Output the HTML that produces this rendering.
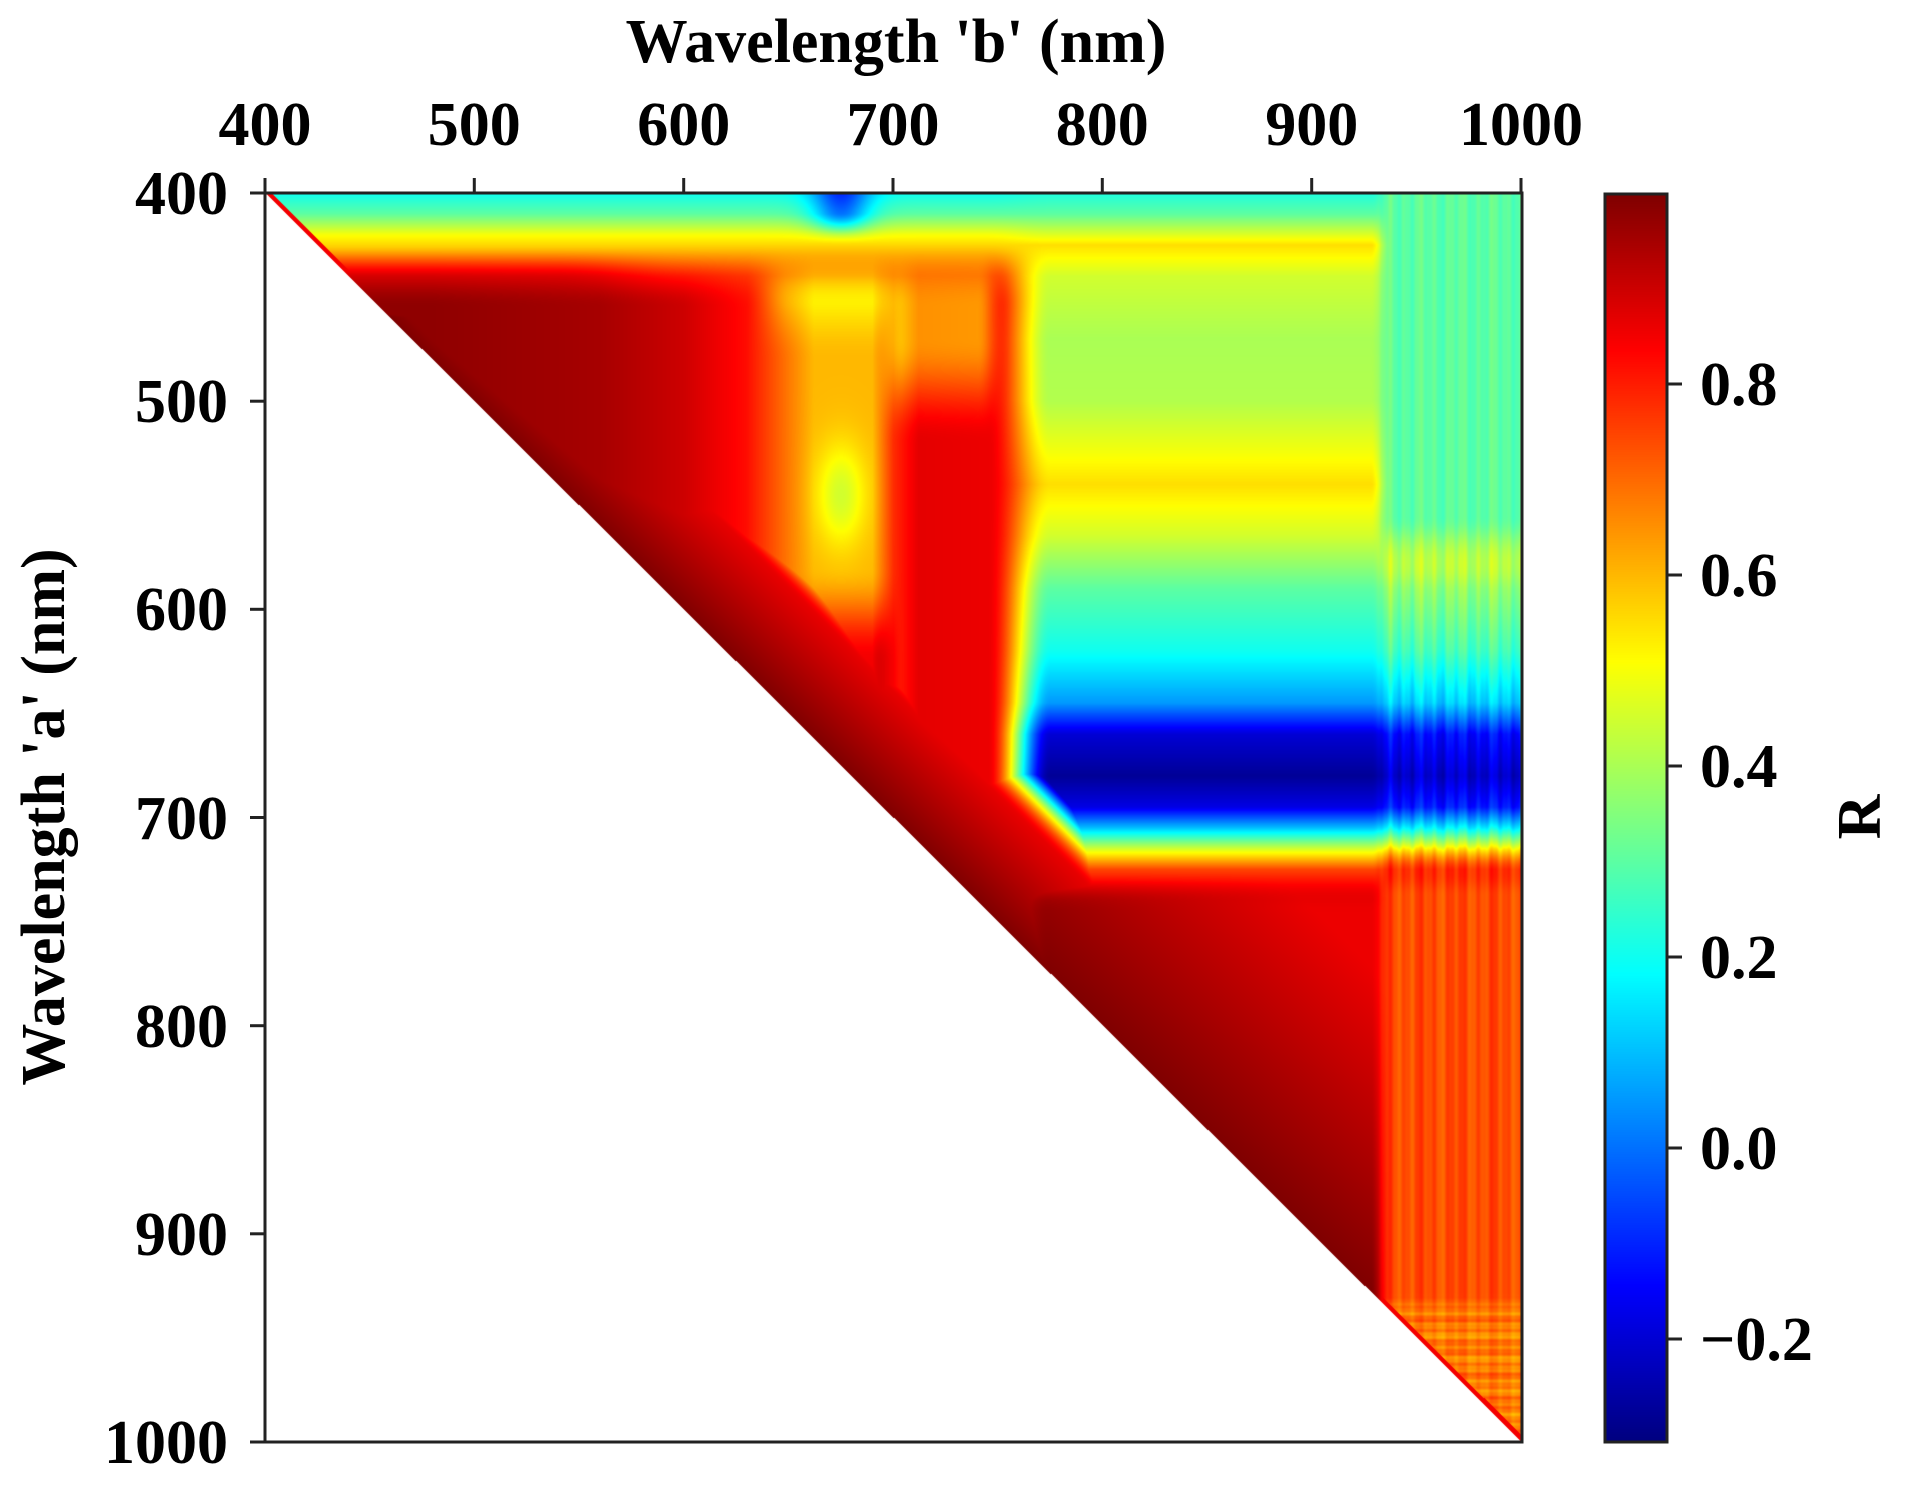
<!DOCTYPE html>
<html><head><meta charset="utf-8"><style>
html,body{margin:0;padding:0;background:#fff;}
#wrap{position:relative;width:1908px;height:1486px;overflow:hidden;}
canvas{position:absolute;}
svg{position:absolute;left:0;top:0;}
text{font-family:"Liberation Serif",serif;font-weight:bold;fill:#000;}
</style></head><body>
<div id="wrap">
<canvas id="hm" width="1257" height="1249" style="left:265px;top:193px;"></canvas>
<canvas id="cb" width="62" height="1248" style="left:1605px;top:194px;"></canvas>
<svg width="1908" height="1486">
<rect x="265" y="193" width="1257" height="1249" fill="none" stroke="#222" stroke-width="3"/>
<rect x="1605" y="194" width="62" height="1248" fill="none" stroke="#222" stroke-width="3"/>
<g stroke="#222" stroke-width="3">
<line x1="265" y1="193" x2="265" y2="178"/><line x1="474.3" y1="193" x2="474.3" y2="178"/><line x1="683.7" y1="193" x2="683.7" y2="178"/><line x1="893" y1="193" x2="893" y2="178"/><line x1="1102.3" y1="193" x2="1102.3" y2="178"/><line x1="1311.7" y1="193" x2="1311.7" y2="178"/><line x1="1521" y1="193" x2="1521" y2="178"/>
<line x1="265" y1="193" x2="250" y2="193"/><line x1="265" y1="401.2" x2="250" y2="401.2"/><line x1="265" y1="609.3" x2="250" y2="609.3"/><line x1="265" y1="817.5" x2="250" y2="817.5"/><line x1="265" y1="1025.7" x2="250" y2="1025.7"/><line x1="265" y1="1233.8" x2="250" y2="1233.8"/><line x1="265" y1="1442" x2="250" y2="1442"/>
<line x1="1667" y1="384" x2="1682" y2="384"/><line x1="1667" y1="575" x2="1682" y2="575"/><line x1="1667" y1="766" x2="1682" y2="766"/><line x1="1667" y1="957" x2="1682" y2="957"/><line x1="1667" y1="1148" x2="1682" y2="1148"/><line x1="1667" y1="1339" x2="1682" y2="1339"/>
</g>
<g font-size="62" text-anchor="middle">
<text x="265" y="145">400</text><text x="474.3" y="145">500</text><text x="683.7" y="145">600</text><text x="893" y="145">700</text><text x="1102.3" y="145">800</text><text x="1311.7" y="145">900</text><text x="1521" y="145">1000</text>
</g>
<g font-size="62" text-anchor="end">
<text x="228" y="214">400</text><text x="228" y="422">500</text><text x="228" y="630">600</text><text x="228" y="839">700</text><text x="228" y="1047">800</text><text x="228" y="1255">900</text><text x="228" y="1463">1000</text>
</g>
<g font-size="62">
<text x="1700" y="405">0.8</text><text x="1700" y="596">0.6</text><text x="1700" y="787">0.4</text><text x="1700" y="978">0.2</text><text x="1700" y="1169">0.0</text><text x="1700" y="1360">−0.2</text>
</g>
<text x="896" y="62" font-size="62" text-anchor="middle">Wavelength 'b' (nm)</text>
<text transform="translate(64,817) rotate(-90)" font-size="62" text-anchor="middle">Wavelength 'a' (nm)</text>
<text transform="translate(1880,817) rotate(-90)" font-size="62" text-anchor="middle">R</text>
</svg>
</div>
<script>
function cl(v){return v<0?0:v>1?1:v;}
function jet(t){t=cl(t);return [cl(1.5-Math.abs(4*t-3)),cl(1.5-Math.abs(4*t-2)),cl(1.5-Math.abs(4*t-1))];}
function interp(x,xs,ys){if(x<=xs[0])return ys[0];for(var i=1;i<xs.length;i++){if(x<=xs[i]){var f=(x-xs[i-1])/(xs[i]-xs[i-1]);return ys[i-1]+f*(ys[i]-ys[i-1]);}}return ys[ys.length-1];}
function ss(x,a,b){var t=cl((x-a)/(b-a));return t*t*(3-2*t);}
function bump(x,a,b,c,d){return ss(x,a,b)*(1-ss(x,c,d));}
function g(x){return Math.exp(-x*x);}
var VMIN=-0.31,VMAX=1.0;
function stripe(b){return 0.5*Math.sin(b*0.9)+0.3*Math.sin(b*0.37+1)+0.2*Math.sin(b*2.1);}
function R(a,b){
 var nir=interp(a,[400,410,425,440,470,500,540,565,590,620,645,660,680,695,705,715,725,740],
  [0.22,0.3,0.55,0.45,0.4,0.41,0.55,0.45,0.3,0.2,0.05,-0.2,-0.28,-0.18,0.1,0.45,0.75,0.9]);
 if(a>=725){var hv=Math.max(0.86,1.0-0.0009*(b-a));var w=ss(a,725,745);nir=nir*(1-w)+hv*w;}
 var s=ss(b,928,938);
 if(s>0){
  var stLow=0.3+0.04*stripe(b);
  var stMid=nir+0.07+0.06*stripe(b);
  var stHigh=0.74+0.05*stripe(b);
  var stBot=0.68+0.06*stripe(a*1.3)+0.04*stripe(b);
  var st=stLow*(1-ss(a,555,585))+stMid*ss(a,555,585);
  var wh=ss(a,712,738);
  st=st*(1-wh)+stHigh*wh;
  var wb=ss(a,928,940);
  st=st*(1-wb)+stBot*wb;
  nir=nir*(1-s)+st*s;
 }
 var top=interp(a,[400,410,420,430,440],[0.2,0.3,0.5,0.62,0.72]);
 top-=0.3*g((b-675)/14)*(1-ss(a,410,425));
 top+=0.08*(1-ss(b,540,600))*ss(a,425,440);
 var col=interp(b,[400,480,560,600,630,650,662,690,700,712,745],[0.98,0.98,0.95,0.9,0.82,0.68,0.6,0.6,0.78,0.87,0.86]);
 col-=0.22*(1-ss(a,470,520))*bump(b,690,705,740,755);
 col-=0.15*g((a-545)/25)*g((b-675)/12);
 col-=0.1*(1-ss(a,440,480))*bump(b,630,650,690,705);
 col+=0.25*ss(a,580,625)*bump(b,625,650,690,705);
 var vis=top*(1-ss(a,425,455))+col*ss(a,425,455);
 var t=ss(b,745,775);
 var v=vis*(1-t)+nir*t;
 var wd=ss(a,430,460)*(1-s);
 var d=b-a;
 var boost=1-d*0.0022-2*ss(d,60,120);
 boost=boost*wd-(1-wd);
 v=Math.max(v,boost);
 if(d<3)v=Math.max(v,0.85);
 return v;
}
(function(){
 var c=document.getElementById('hm'),ctx=c.getContext('2d');
 var W=c.width,H=c.height,img=ctx.createImageData(W,H),D=img.data;
 for(var y=0;y<H;y++){var a=400+(y+0.5)/H*600;
  for(var x=0;x<W;x++){var b=400+(x+0.5)/W*600;var k=(y*W+x)*4;
   if(b<a){D[k+3]=0;continue;}
   var v=R(a,b);var col=jet((v-VMIN)/(VMAX-VMIN));
   D[k]=col[0]*255;D[k+1]=col[1]*255;D[k+2]=col[2]*255;D[k+3]=255;}}
 ctx.putImageData(img,0,0);
 var cb=document.getElementById('cb'),c2=cb.getContext('2d');
 for(var y=0;y<cb.height;y++){var t=1-y/(cb.height-1);var col=jet(t);
  c2.fillStyle='rgb('+Math.round(col[0]*255)+','+Math.round(col[1]*255)+','+Math.round(col[2]*255)+')';c2.fillRect(0,y,cb.width,1);}
})();
</script>
</body></html>
